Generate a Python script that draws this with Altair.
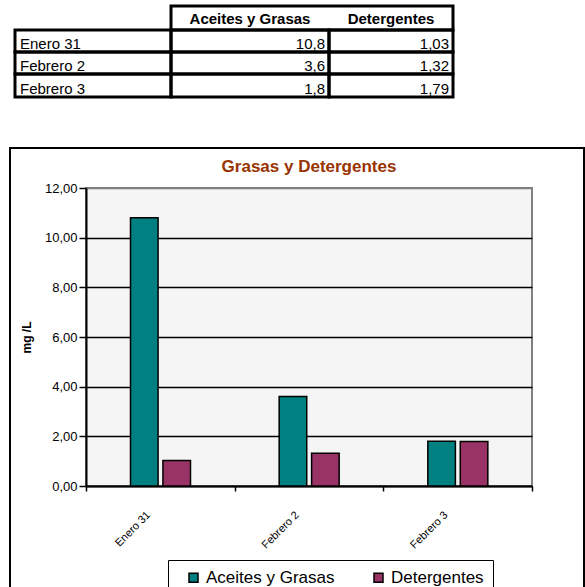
import altair as alt
import pandas as pd

# ---- data ----
categories = ["Enero 31", "Febrero 2", "Febrero 3"]
series = ["Aceites y Grasas", "Detergentes"]
aceites = [10.8, 3.6, 1.8]
detergentes = [1.03, 1.32, 1.79]
y_ticks = [0, 2, 4, 6, 8, 10, 12]
colors = ["#008080", "#993366"]
chart_title = "Grasas y Detergentes"

FONT = "Liberation Sans, Arial, sans-serif"

# long table for bars
rows = []
for i, cat in enumerate(categories):
    rows.append({"category": cat, "series": series[0], "value": aceites[i]})
    rows.append({"category": cat, "series": series[1], "value": detergentes[i]})
bars_df = pd.DataFrame(rows)

# table cells (structure indexes only)
def fmt(v):
    return str(v).replace(".", ",")

text_rows = []
for j, s in enumerate(series):
    text_rows.append({"kind": "header", "c": j + 1, "r": 0, "text": s})
for i, cat in enumerate(categories):
    text_rows.append({"kind": "label", "c": 0, "r": i + 1, "text": cat})
    text_rows.append({"kind": "value", "c": 1, "r": i + 1, "text": fmt(aceites[i])})
    text_rows.append({"kind": "value", "c": 2, "r": i + 1, "text": fmt(detergentes[i])})
text_df = pd.DataFrame(text_rows)

cell_rows = [{"c": 1, "c2": 1 + len(series), "r": 0, "r2": 1}]
for i in range(len(categories)):
    for j in range(len(series) + 1):
        cell_rows.append({"c": j, "c2": j + 1, "r": i + 1, "r2": i + 2})
cells_df = pd.DataFrame(cell_rows)

# ---- layout constants (plot-area relative) ----
TX = alt.Scale(domain=[0, 1, 2, 3], range=[-71, 85, 243, 367], nice=False, zero=False)
TY = alt.Scale(domain=[0, 1, 2, 3, 4], range=[-182, -158, -136, -114, -91], nice=False, zero=False)
TFS = 15

cells = alt.Chart(cells_df).mark_rect(fillOpacity=0, stroke="black", strokeWidth=3).encode(
    x=alt.X("c:Q", scale=TX, axis=None),
    x2="c2:Q",
    y=alt.Y("r:Q", scale=TY, axis=None),
    y2="r2:Q",
)

header_txt = alt.Chart(text_df).transform_filter("datum.kind == 'header'").transform_calculate(
    xm="datum.c + 0.5", yb="datum.r + 1"
).mark_text(fontSize=TFS, fontWeight="bold", align="center", baseline="alphabetic", dy=-6, color="black").encode(
    x=alt.X("xm:Q", scale=TX, axis=None),
    y=alt.Y("yb:Q", scale=TY, axis=None),
    text="text:N",
)

label_txt = alt.Chart(text_df).transform_filter("datum.kind == 'label'").transform_calculate(
    yb="datum.r + 1"
).mark_text(fontSize=TFS, align="left", baseline="alphabetic", dx=5, dy=-3, color="black").encode(
    x=alt.X("c:Q", scale=TX, axis=None),
    y=alt.Y("yb:Q", scale=TY, axis=None),
    text="text:N",
)

value_txt = alt.Chart(text_df).transform_filter("datum.kind == 'value'").transform_calculate(
    xe="datum.c + 1", yb="datum.r + 1"
).mark_text(fontSize=TFS, align="right", baseline="alphabetic", dx=-4, dy=-3, color="black").encode(
    x=alt.X("xe:Q", scale=TX, axis=None),
    y=alt.Y("yb:Q", scale=TY, axis=None),
    text="text:N",
)

frame = alt.Chart(pd.DataFrame({"a": [0]})).mark_rect(
    fillOpacity=0, stroke="black", strokeWidth=2
).encode(
    x=alt.value(-76), x2=alt.value(498), y=alt.value(-40), y2=alt.value(412)
)

title_txt = alt.Chart(pd.DataFrame({"t": [chart_title]})).mark_text(
    fontSize=17, fontWeight="bold", color="#993300", align="center", baseline="alphabetic"
).encode(
    x=alt.value(223), y=alt.value(-16), text="t:N"
)

bars = alt.Chart(bars_df).mark_bar(stroke="black", strokeWidth=1.5).encode(
    x=alt.X(
        "category:N",
        sort=categories,
        scale=alt.Scale(paddingInner=0, paddingOuter=0),
        axis=alt.Axis(
            title=None,
            labelAngle=-45,
            labelAlign="right",
            labelBaseline="middle",
            tickBand="extent",
            tickSize=5,
            tickWidth=1.5,
            tickColor="black",
            domainColor="black",
            domainWidth=2,
            labelFontSize=11,
            labelColor="black",
            labelOffset=-12,
            labelPadding=22,
            grid=False,
        ),
    ),
    xOffset=alt.XOffset(
        "series:N", sort=series, scale=alt.Scale(range=[44.5, 104.5], paddingInner=0.15, paddingOuter=0)
    ),
    y=alt.Y(
        "value:Q",
        scale=alt.Scale(domain=[0, 12], nice=False),
        axis=alt.Axis(
            title="mg /L",
            values=y_ticks,
            labelExpr="replace(format(datum.value, '.2f'), '.', ',')",
            grid=True,
            gridColor={"condition": {"test": "datum.value >= 12", "value": "#808080"}, "value": "black"},
            gridWidth=1.5,
            domainColor="black",
            domainWidth=2,
            tickColor="black",
            tickSize=7,
            tickWidth=1.5,
            labelFontSize=13,
            labelColor="black",
            labelPadding=2,
            titleFontSize=12,
            titleFontWeight="bold",
            titleColor="black",
            titlePadding=11,
        ),
    ),
    color=alt.Color(
        "series:N",
        sort=series,
        scale=alt.Scale(domain=series, range=colors),
        legend=alt.Legend(
            title=None,
            orient="none",
            legendX=82,
            legendY=372,
            direction="horizontal",
            columns=2,
            symbolType="square",
            symbolSize=81,
            symbolStrokeColor="black",
            symbolStrokeWidth=1.5,
            symbolOpacity=1,
            symbolOffset=8,
            labelFontSize=17,
            labelColor="black",
            labelOffset=4,
            columnPadding=27,
            strokeColor="black",
            fillColor="white",
            padding=9,
        ),
    ),
)

chart = (
    alt.layer(frame, bars, cells, header_txt, label_txt, value_txt, title_txt)
    .resolve_scale(x="independent", y="independent")
    .properties(
        width=446,
        height=298,
        autosize=alt.AutoSizeParams(type="none"),
        padding={"left": 86, "top": 188, "right": 53, "bottom": 101},
        background="white",
    )
    .configure(font=FONT)
    .configure_view(fill="#f5f5f5", stroke="#808080", strokeWidth=2)
)

chart.save("out.html", embed_options={"renderer": "svg", "actions": False})
